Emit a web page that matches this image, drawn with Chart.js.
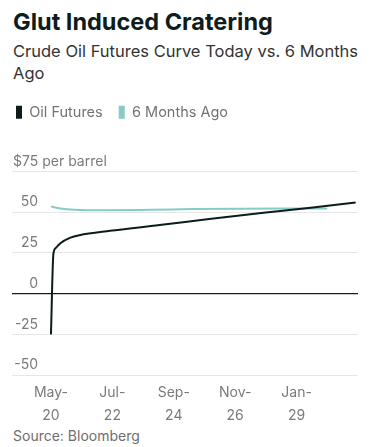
<!DOCTYPE html>
<html>
<head>
<meta charset="utf-8">
<script src="https://cdn.jsdelivr.net/npm/chart.js@4.4.1/dist/chart.umd.min.js"></script>
<style>
  body { margin: 0; background: #fff; font-family: Inter, sans-serif; }
  #wrap { position: relative; width: 369px; height: 447px; overflow: hidden; }
  #title { position: absolute; left: 13px; top: 8px; font-size: 23.5px; font-weight: 700; line-height: 28px; color: #0f1c1c; white-space: nowrap; }
  #subtitle { position: absolute; left: 13px; top: 40px; font-size: 16.5px; line-height: 22px; color: #333; white-space: nowrap; }
  #chartBox { position: absolute; left: 0; top: 89px; width: 369px; height: 336px; }
  #source { position: absolute; left: 13px; top: 428px; font-size: 14px; line-height: 16px; color: #6e6e6e; }
</style>
</head>
<body>
<div id="wrap">
  <div id="title">Glut Induced Cratering</div>
  <div id="subtitle">Crude Oil Futures Curve Today vs. 6 Months<br>Ago</div>
  <div id="chartBox"><canvas id="curveChart"></canvas></div>
  <div id="source">Source: Bloomberg</div>
</div>
<script>
// ── data: x = months after May 2020 ──
const futuresMonths = [0, 1, 2, 4, 8, 12, 25, 46, 67, 90, 110, 129];
const futuresPrices = [-25, 24, 28, 31, 34.2, 35.9, 38.6, 42.1, 45.9, 49.6, 52.8, 55.9];

const agoMonths = [0, 4, 10, 20, 42, 60, 80, 100, 117];
const agoPrices = [53.5, 52.3, 51.5, 51.2, 51.5, 51.9, 52.2, 52.3, 52.3];

const xTickMonths = [0, 26, 52, 78, 104];
const xTickLabels = [['May-', '20'], ['Jul-', '22'], ['Sep-', '24'], ['Nov-', '26'], ['Jan-', '29']];

const yTickValues = [-50, -25, 0, 25, 50, 75];
const yTickText = ['-50', '-25', '0', '25', '50', '$75 per barrel'];

const DARK = '#0c1c1c';
const TEAL = '#86ccc6';
const LABEL_GREY = '#7a7a7a';

function toPoints(xs, ys) {
  return xs.map((x, i) => ({ x, y: ys[i] }));
}

// push the plot down below the legend
const legendSpacer = {
  id: 'legendSpacer',
  beforeInit(chart) {
    if (!chart.legend) return;
    const fit = chart.legend.fit;
    chart.legend.fit = function () { fit.call(this); this.height += 42; };
  }
};

// value labels sit just above each gridline
const yLabels = {
  id: 'yLabels',
  afterDraw(chart) {
    const { ctx, chartArea, scales: { y } } = chart;
    ctx.save();
    ctx.font = '14px Inter';
    ctx.fillStyle = LABEL_GREY;
    ctx.textBaseline = 'middle';
    y.ticks.forEach(t => {
      const idx = yTickValues.indexOf(t.value);
      if (idx < 0) return;
      const py = y.getPixelForValue(t.value) - 10;
      if (t.value === 75) {
        ctx.textAlign = 'left';
        ctx.fillText(yTickText[idx], chartArea.left + 1, py);
      } else {
        ctx.textAlign = 'right';
        ctx.fillText(yTickText[idx], chartArea.left + 26, py);
      }
    });
    ctx.restore();
  }
};

new Chart(document.getElementById('curveChart'), {
  type: 'line',
  data: {
    datasets: [
      {
        label: 'Oil Futures',
        data: toPoints(futuresMonths, futuresPrices),
        borderColor: DARK, backgroundColor: DARK,
        borderWidth: 2, pointRadius: 0,
        cubicInterpolationMode: 'monotone'
      },
      {
        label: '6 Months Ago',
        data: toPoints(agoMonths, agoPrices),
        borderColor: TEAL, backgroundColor: TEAL,
        borderWidth: 2, pointRadius: 0,
        cubicInterpolationMode: 'monotone'
      }
    ]
  },
  options: {
    responsive: true, maintainAspectRatio: false, animation: false,
    layout: { padding: { left: 0, right: 11, top: 0, bottom: 0 } },
    plugins: {
      tooltip: { enabled: false },
      legend: {
        align: 'start',
        labels: {
          boxWidth: 6, boxHeight: 13, padding: 16,
          color: '#737373', font: { family: 'Inter', size: 14.5 },
          generateLabels: (chart) => Chart.defaults.plugins.legend.labels.generateLabels(chart)
            .map(l => ({ ...l, lineWidth: 0 }))
        }
      }
    },
    scales: {
      x: {
        type: 'linear', min: -16.5, max: 130,
        grid: { display: false }, border: { display: false },
        afterBuildTicks: s => { s.ticks = xTickMonths.map(v => ({ value: v })); },
        ticks: {
          autoSkip: false, maxRotation: 0, padding: -2, color: LABEL_GREY,
          font: { family: 'Inter', size: 14, lineHeight: 1.64 },
          callback: (v, i) => xTickLabels[i]
        }
      },
      y: {
        min: -50, max: 75,
        afterFit: s => { s.width = 12; },
        afterBuildTicks: s => { s.ticks = yTickValues.map(v => ({ value: v })); },
        border: { display: false },
        grid: {
          drawTicks: false,
          color: c => (c.tick && c.tick.value === 0 ? '#1c1c1c' : '#e6e6e6'),
          lineWidth: c => (c.tick && c.tick.value === 0 ? 1.3 : 1)
        },
        ticks: { display: false }
      }
    }
  },
  plugins: [legendSpacer, yLabels]
});
</script>
</body>
</html>
